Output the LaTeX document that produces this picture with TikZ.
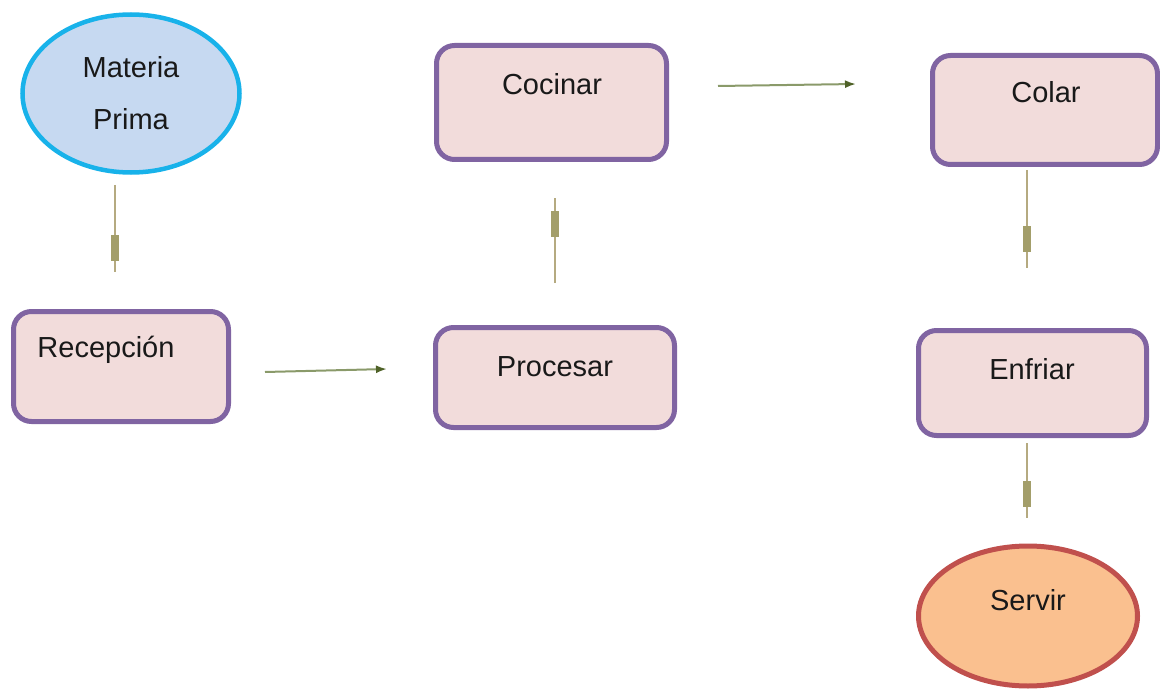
\documentclass[tikz,border=0pt]{standalone}
\usepackage{fontspec}
\setmainfont{Liberation Sans}
\usetikzlibrary{shapes.geometric,arrows.meta}
\definecolor{bluefill}{HTML}{C6D9F1}
\definecolor{blueline}{HTML}{18B2EA}
\definecolor{pinkfill}{HTML}{F2DCDB}
\definecolor{purpleline}{HTML}{8064A2}
\definecolor{orangefill}{HTML}{FAC08F}
\definecolor{redline}{HTML}{C0504D}
\definecolor{hconn}{HTML}{8A9A6A}
\definecolor{vconn}{HTML}{B5AA80}
\definecolor{vmark}{HTML}{A39E6A}
\definecolor{tipcol}{HTML}{4F6228}
\tikzset{
  procbox/.style={draw=purpleline, fill=pinkfill, line width=5pt, rounded corners=18pt, inner sep=0pt},
  startell/.style={ellipse, draw=blueline, fill=bluefill, line width=4.5pt, inner sep=0pt},
  endell/.style={ellipse, draw=redline, fill=orangefill, line width=5pt, inner sep=0pt},
  txt/.style={anchor=base, inner sep=0pt, font=\fontsize{29}{34}\selectfont, text=black!90},
  hline/.style={draw=hconn, line width=2pt, -{Latex[length=11pt,width=8pt,color=tipcol]}},
  vline/.style={draw=vconn, line width=2pt},
  vmarker/.style={fill=vmark, minimum width=8pt, minimum height=26pt, inner sep=0pt}
}
\begin{document}
\begin{tikzpicture}[x=1pt,y=-1pt]
\useasboundingbox (0,0) rectangle (1160,690);
% shapes
\node[startell, minimum width=217pt, minimum height=158pt] (mp) at (131,93.5) {};
\node[procbox, minimum width=230pt, minimum height=114pt] (coc) at (551.5,102.5) {};
\node[procbox, minimum width=225pt, minimum height=109pt] (col) at (1045,110) {};
\node[procbox, minimum width=215pt, minimum height=110pt] (rec) at (121,366.5) {};
\node[procbox, minimum width=239pt, minimum height=100pt] (pro) at (555,377.5) {};
\node[procbox, minimum width=228pt, minimum height=105pt] (enf) at (1032.5,383) {};
\node[endell, minimum width=219pt, minimum height=140pt] (ser) at (1028,616) {};
% texts
\node[txt] (tmp1) at (131,78) {Materia};
\node[txt] (tmp2) at (131,130) {Prima};
\node[txt] (tcoc) at (552,95) {Cocinar};
\node[txt] (tcol) at (1046,103) {Colar};
\node[txt] (trec) at (106,357) {Recepción};
\node[txt] (tpro) at (555,376) {Procesar};
\node[txt] (tenf) at (1032,379) {Enfriar};
\node[txt] (tser) at (1028,610) {Servir};
% connector end points
\coordinate (a1) at (115,185); \coordinate (a2) at (115,272);
\coordinate (b1) at (265,372); \coordinate (b2) at (387,369);
\coordinate (c1) at (555,283); \coordinate (c2) at (555,198);
\coordinate (d1) at (718,86);  \coordinate (d2) at (856,84);
\coordinate (e1) at (1027,170); \coordinate (e2) at (1027,268);
\coordinate (f1) at (1027,443); \coordinate (f2) at (1027,518);
% connectors
\draw[vline] (a1) -- (a2) node[pos=0.72, vmarker] (ma) {};
\draw[hline] (b1) -- (b2);
\draw[vline] (c1) -- (c2) node[pos=0.7, vmarker] (mc) {};
\draw[hline] (d1) -- (d2);
\draw[vline] (e1) -- (e2) node[pos=0.7, vmarker] (me) {};
\draw[vline] (f1) -- (f2) node[pos=0.68, vmarker] (mf) {};
\end{tikzpicture}
\end{document}
